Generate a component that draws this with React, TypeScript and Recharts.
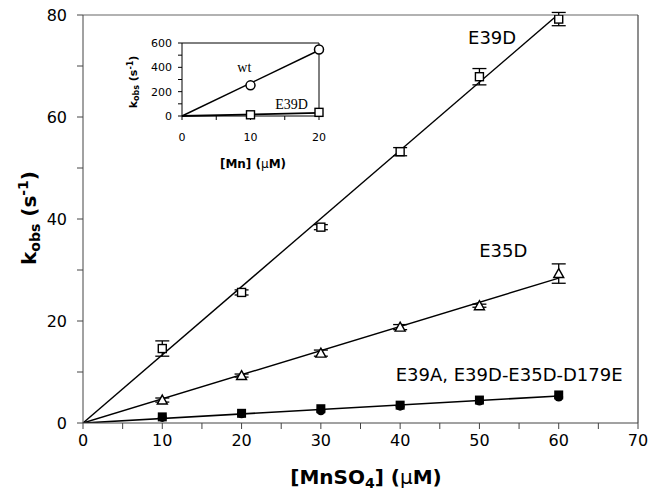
import {
  ComposedChart,
  Line,
  Scatter,
  ErrorBar,
  XAxis,
  YAxis,
  ReferenceLine,
  ReferenceDot,
  Label,
} from "recharts";

// main plot: kobs vs [MnSO4]
const conc = [10, 20, 30, 40, 50, 60];
const e39dRate = [14.6, 25.6, 38.4, 53.2, 67.9, 79.2];
const e39dErr = [1.5, 0.5, 0.5, 0.8, 1.6, 1.3];
const e35dRate = [4.5, 9.3, 13.7, 18.8, 23.0, 29.3];
const e35dErr = [0.4, 0.3, 0.6, 0.5, 0.3, 1.9];
const e39aRate = [1.2, 1.9, 2.8, 3.5, 4.5, 5.5];
const tripleRate = [1.1, 1.8, 2.4, 3.3, 4.3, 5.1];

// linear fits, start and end
const fitX = [0, 60];
const e39dFit = [0, 80.2];
const e35dFit = [0, 28.4];
const e39aFit = [0, 5.3];

const xTicks = [0, 5, 10, 15, 20, 25, 30, 35, 40, 45, 50, 55, 60, 65, 70];
const yTicks = [0, 10, 20, 30, 40, 50, 60, 70, 80];

// inset: wt vs E39D
const insetConc = [10, 20];
const wtRate = [252, 546];
const insetE39dRate = [10, 30];
const insetFitX = [0, 20];
const wtFit = [0, 540];
const insetE39dFit = [0, 26];
const insetXTicks = [0, 5, 10, 15, 20];
const insetYTicks = [0, 100, 200, 300, 400, 500, 600];

const pts = (xs: number[], ys: number[], errs?: number[]) =>
  xs.map((x, i) => ({ x, y: ys[i], err: errs ? errs[i] : 0 }));

const FONT = "DejaVu Sans";

const OpenSquare = (p: any) => (
  <rect x={p.cx - 4} y={p.cy - 4} width={8} height={8} fill="#fff" stroke="#000" strokeWidth={1.4} />
);
const OpenTriangle = (p: any) => (
  <path
    d={`M${p.cx},${p.cy - 5} L${p.cx + 5},${p.cy + 4} L${p.cx - 5},${p.cy + 4} Z`}
    fill="#fff"
    stroke="#000"
    strokeWidth={1.4}
  />
);
const FilledSquare = (p: any) => (
  <rect x={p.cx - 4.5} y={p.cy - 4.5} width={9} height={9} fill="#000" />
);
const FilledCircle = (p: any) => <circle cx={p.cx} cy={p.cy} r={4.5} fill="#000" />;
const SmallCircle = (p: any) => (
  <circle cx={p.cx} cy={p.cy} r={4.5} fill="#fff" stroke="#000" strokeWidth={1.5} />
);
const SmallSquare = (p: any) => (
  <rect x={p.cx - 4} y={p.cy - 4} width={8} height={8} fill="#fff" stroke="#000" strokeWidth={1.4} />
);

const tickStyle = { fontFamily: FONT, fontSize: 16, fill: "#000" };
const insetTick = { fontFamily: FONT, fontSize: 11, fill: "#000" };

export default function App() {
  return (
    <div style={{ position: "absolute", left: 0, top: 0, width: 651, height: 494, background: "#fff" }}>
      <ComposedChart width={651} height={494} margin={{ top: 15, right: 13, bottom: 41, left: 0 }}>
        <XAxis
          dataKey="x"
          type="number"
          domain={[0, 70]}
          ticks={xTicks}
          tickFormatter={(v) => (v % 10 === 0 ? String(v) : "")}
          tick={tickStyle}
          tickSize={6}
          tickMargin={6}
          stroke="#444"
          height={30}
        >
          <Label
            content={() => (
              <text x={366} y={484} textAnchor="middle" fontFamily={FONT} fontWeight="bold" fontSize={20} fill="#000">
                [MnSO<tspan dy={4} fontSize={14}>4</tspan>
                <tspan dy={-4}>] (</tspan>
                <tspan fontWeight="normal">μ</tspan>M)
              </text>
            )}
          />
        </XAxis>
        <YAxis
          type="number"
          domain={[0, 80]}
          allowDataOverflow
          ticks={yTicks}
          tickFormatter={(v) => (v % 20 === 0 ? String(v) : "")}
          tick={tickStyle}
          tickSize={6}
          tickMargin={10}
          stroke="#444"
          width={83}
        >
          <Label
            content={() => (
              <text
                x={36}
                y={218}
                transform="rotate(-90 36 218)"
                textAnchor="middle"
                fontFamily={FONT}
                fontWeight="bold"
                fontSize={20}
                fill="#000"
              >
                k<tspan dy={4} fontSize={14}>obs</tspan>
                <tspan dy={-4}> (s</tspan>
                <tspan dy={-8} fontSize={14}>-1</tspan>
                <tspan dy={8}>)</tspan>
              </text>
            )}
          />
        </YAxis>
        <ReferenceLine y={80} stroke="#666" strokeWidth={1.2} />
        <ReferenceLine x={70} stroke="#444" strokeWidth={1.2} />

        <Line data={pts(fitX, e39dFit)} dataKey="y" stroke="#000" strokeWidth={1.4} dot={false} isAnimationActive={false} />
        <Line data={pts(fitX, e35dFit)} dataKey="y" stroke="#000" strokeWidth={1.4} dot={false} isAnimationActive={false} />
        <Line data={pts(fitX, e39aFit)} dataKey="y" stroke="#000" strokeWidth={1.6} dot={false} isAnimationActive={false} />

        <Scatter data={pts(conc, e39dRate, e39dErr)} dataKey="y" shape={OpenSquare} isAnimationActive={false}>
          <ErrorBar dataKey="err" direction="y" width={7} stroke="#000" strokeWidth={1.3} />
        </Scatter>
        <Scatter data={pts(conc, e35dRate, e35dErr)} dataKey="y" shape={OpenTriangle} isAnimationActive={false}>
          <ErrorBar dataKey="err" direction="y" width={7} stroke="#000" strokeWidth={1.3} />
        </Scatter>
        <Scatter data={pts(conc, tripleRate)} dataKey="y" shape={FilledCircle} isAnimationActive={false} />
        <Scatter data={pts(conc, e39aRate)} dataKey="y" shape={FilledSquare} isAnimationActive={false} />

        <ReferenceDot x={51.6} y={75.5} r={0} fill="none" stroke="none" ifOverflow="visible"
          label={{ value: "E39D", position: "center", fontFamily: FONT, fontSize: 18, fill: "#000" }} />
        <ReferenceDot x={53} y={33.9} r={0} fill="none" stroke="none" ifOverflow="visible"
          label={{ value: "E35D", position: "center", fontFamily: FONT, fontSize: 18, fill: "#000" }} />
        <ReferenceDot x={53.75} y={9.4} r={0} fill="none" stroke="none" ifOverflow="visible"
          label={{ value: "E39A, E39D-E35D-D179E", position: "center", fontFamily: FONT, fontSize: 18, fill: "#000" }} />
      </ComposedChart>

      <div style={{ position: "absolute", left: 100, top: 30, pointerEvents: "none" }}>
        <ComposedChart width={230} height={150} margin={{ top: 13, right: 11, bottom: 34, left: 32 }}>
          <XAxis
            dataKey="x"
            type="number"
            domain={[0, 20]}
            ticks={insetXTicks}
            tickFormatter={(v) => (v % 10 === 0 ? String(v) : "")}
            tick={insetTick}
            tickSize={4}
            tickMargin={13}
            stroke="#000"
            height={30}
          >
            <Label
              content={() => (
                <text x={153} y={138} textAnchor="middle" fontFamily={FONT} fontWeight="bold" fontSize={12} fill="#000">
                  [Mn] (<tspan fontWeight="normal">μ</tspan>M)
                </text>
              )}
            />
          </XAxis>
          <YAxis
            type="number"
            domain={[0, 600]}
            ticks={insetYTicks}
            tickFormatter={(v) => (v % 200 === 0 ? String(v) : "")}
            tick={insetTick}
            tickSize={4}
            tickMargin={6}
            stroke="#000"
            width={50}
          >
            <Label
              content={() => (
                <text
                  x={37}
                  y={52}
                  transform="rotate(-90 37 52)"
                  textAnchor="middle"
                  fontFamily={FONT}
                  fontWeight="bold"
                  fontSize={11}
                  fill="#000"
                >
                  k<tspan dy={2} fontSize={8}>obs</tspan>
                  <tspan dy={-2}> (s</tspan>
                  <tspan dy={-4} fontSize={8}>-1</tspan>
                  <tspan dy={4}>)</tspan>
                </text>
              )}
            />
          </YAxis>
          <ReferenceLine y={600} stroke="#000" />
          <ReferenceLine x={20} stroke="#000" />
          <Line data={pts(insetFitX, wtFit)} dataKey="y" stroke="#000" strokeWidth={1.5} dot={false} isAnimationActive={false} />
          <Line data={pts(insetFitX, insetE39dFit)} dataKey="y" stroke="#000" strokeWidth={1.8} dot={false} isAnimationActive={false} />
          <Scatter data={pts(insetConc, wtRate)} dataKey="y" shape={SmallCircle} isAnimationActive={false} />
          <Scatter data={pts(insetConc, insetE39dRate)} dataKey="y" shape={SmallSquare} isAnimationActive={false} />
          <ReferenceDot x={9.1} y={400} r={0} fill="none" stroke="none" ifOverflow="visible"
            label={{ value: "wt", position: "center", fontFamily: "Liberation Serif", fontSize: 14, fill: "#000" }} />
          <ReferenceDot x={16} y={100} r={0} fill="none" stroke="none" ifOverflow="visible"
            label={{ value: "E39D", position: "center", fontFamily: "Liberation Serif", fontSize: 14, fill: "#000" }} />
        </ComposedChart>
      </div>
    </div>
  );
}
